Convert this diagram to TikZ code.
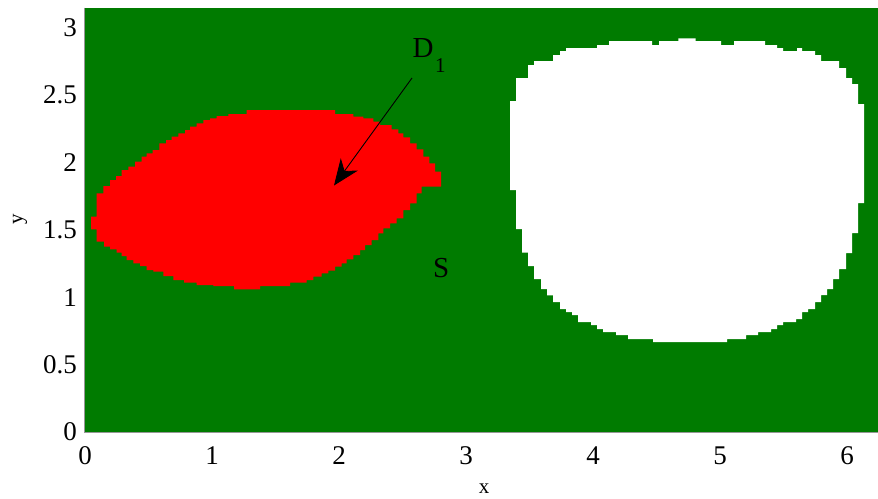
\documentclass[tikz,border=0pt]{standalone}
\usepackage{fontspec}
\setmainfont{Liberation Serif}
\usetikzlibrary{arrows.meta}
\definecolor{fieldgreen}{RGB}{0,123,0}
\definecolor{regionred}{RGB}{255,0,0}
\definecolor{axisgray}{RGB}{150,150,150}
\tikzset{
  ticklabel/.style={inner sep=0pt, font=\fontsize{27}{30}\selectfont},
  axlabel/.style={inner sep=0pt, font=\fontsize{21}{24}\selectfont},
  biglabel/.style={inner sep=0pt, font=\fontsize{29}{32}\selectfont},
  pointer/.style={black, line width=0.9pt, -{Stealth[length=26pt, width=21pt, inset=8pt]}}
}
\begin{document}
\begin{tikzpicture}[x=1pt, y=-1pt]
\useasboundingbox (0,0) rectangle (878,498);
% background field S
\fill[fieldgreen] (84.5,7.5) rectangle (878,432);
\draw[axisgray, line width=1pt] (84.5,7.5) -- (84.5,432) -- (878,432);
% red region D1
\begin{scope}[shift={(80,100)}, scale=1/3]
\fill[regionred] (33,388)
 |-(50,350) |-(70,280) |-(90,258) |-(108,240) |-(125,228) |-(145,210) |-(165,200) |-(185,185)
 |-(200,170) |-(218,160) |-(238,150) |-(258,130) |-(275,120) |-(295,110) |-(315,100) |-(330,90)
 |-(350,80) |-(370,70) |-(390,60) |-(410,55) |-(445,48) |-(500,42) |-(765,30) |-(820,42)
 |-(850,50) |-(880,55) |-(900,65) |-(935,75) |-(955,88) |-(970,100) |-(990,112) |-(1010,130)
 |-(1030,148) |-(1048,170) |-(1065,190) |-(1083,215)
 |-(1025,260) |-(1010,280) |-(990,310) |-(970,330) |-(950,355) |-(930,370) |-(910,385) |-(895,400)
 |-(875,420) |-(855,435) |-(840,450) |-(820,465) |-(800,478) |-(785,490) |-(765,500) |-(745,512)
 |-(725,520) |-(700,530) |-(680,540) |-(630,548) |-(540,558) |-(462,568) |-(400,558) |-(350,555)
 |-(312,548) |-(280,540) |-(250,528) |-(220,515) |-(200,510) |-(180,498) |-(160,490) |-(140,480)
 |-(125,468) |-(110,458) |-(90,448) |-(72,440) |-(50,425) |-(33,388) -- cycle;
\end{scope}
% white region
\begin{scope}[shift={(490,30)}, scale=1/3]
\fill[white] (60,213) -- (60,480) -- (78,480) -- (78,597) -- (96,597) -- (96,668) -- (114,668) -- (114,708)
 -- (132,708) -- (132,747) -- (153,747) -- (153,777) -- (171,777) -- (171,796) -- (189,796) -- (189,816)
 -- (210,816) -- (210,837) -- (228,837) -- (228,846) -- (246,846) -- (246,855) -- (264,855) -- (264,876)
 -- (303,876) -- (303,885) -- (321,885) -- (321,897) -- (339,897) -- (339,906) -- (378,906) -- (378,915)
 -- (414,915) -- (414,927) -- (489,927) -- (489,936) -- (711,936) -- (711,927) -- (768,927) -- (768,915)
 -- (804,915) -- (804,906) -- (843,906) -- (843,897) -- (861,897) -- (861,885) -- (879,885) -- (879,876)
 -- (918,876) -- (918,867) -- (936,867) -- (936,846) -- (954,846) -- (954,837) -- (975,837) -- (975,816)
 -- (993,816) -- (993,795) -- (1011,795) -- (1011,777) -- (1029,777) -- (1029,747) -- (1047,747) -- (1047,717)
 -- (1068,717) -- (1068,669) -- (1086,669) -- (1086,609) -- (1104,609) -- (1104,519) -- (1122,519) -- (1122,222)
 -- (1104,222) -- (1104,162) -- (1086,162) -- (1086,144) -- (1068,144) -- (1068,114) -- (1047,114) -- (1047,93)
 -- (993,93) -- (993,75) -- (975,75) -- (975,63) -- (936,63) -- (936,54) -- (921,54) -- (921,63)
 -- (879,63) -- (879,54) -- (861,54) -- (861,45) -- (825,45) -- (825,33) -- (732,33) -- (732,45)
 -- (693,45) -- (693,33) -- (617,33) -- (617,25) -- (565,25) -- (565,33) -- (507,33) -- (507,45)
 -- (486,45) -- (486,33) -- (357,33) -- (357,45) -- (321,45) -- (321,54) -- (228,54) -- (228,63)
 -- (210,63) -- (210,75) -- (189,75) -- (189,93) -- (132,93) -- (132,105) -- (114,105) -- (114,144)
 -- (78,144) -- (78,213) -- cycle;
\end{scope}
% y tick labels
\node[ticklabel, anchor=east] (yt0) at (77,432) {0};
\node[ticklabel, anchor=east] (yt05) at (77,364.6) {0.5};
\node[ticklabel, anchor=east] (yt1) at (77,297.2) {1};
\node[ticklabel, anchor=east] (yt15) at (77,229.8) {1.5};
\node[ticklabel, anchor=east] (yt2) at (77,162.4) {2};
\node[ticklabel, anchor=east] (yt25) at (77,95) {2.5};
\node[ticklabel, anchor=east] (yt3) at (77,27.6) {3};
% x tick labels
\node[ticklabel] (xt0) at (85,456) {0};
\node[ticklabel] (xt1) at (212,456) {1};
\node[ticklabel] (xt2) at (339,456) {2};
\node[ticklabel] (xt3) at (466,456) {3};
\node[ticklabel] (xt4) at (593,456) {4};
\node[ticklabel] (xt5) at (720,456) {5};
\node[ticklabel] (xt6) at (847,456) {6};
% axis labels
\node[axlabel, anchor=base] (xlab) at (484,493) {x};
\node[axlabel, rotate=90] (ylab) at (20,219.5) {y};
% region labels
\node[biglabel, anchor=base west] (d1) at (412.5,57) {D\kern1.5pt\raisebox{-15pt}{\fontsize{21}{21}\selectfont 1}};
\node[biglabel, anchor=base west] (slab) at (433,277.5) {S};
% arrow
\coordinate (arrstart) at (412,78);
\coordinate (arrtip) at (334,185.5);
\draw[pointer] (arrstart) -- (arrtip);
\end{tikzpicture}
\end{document}
